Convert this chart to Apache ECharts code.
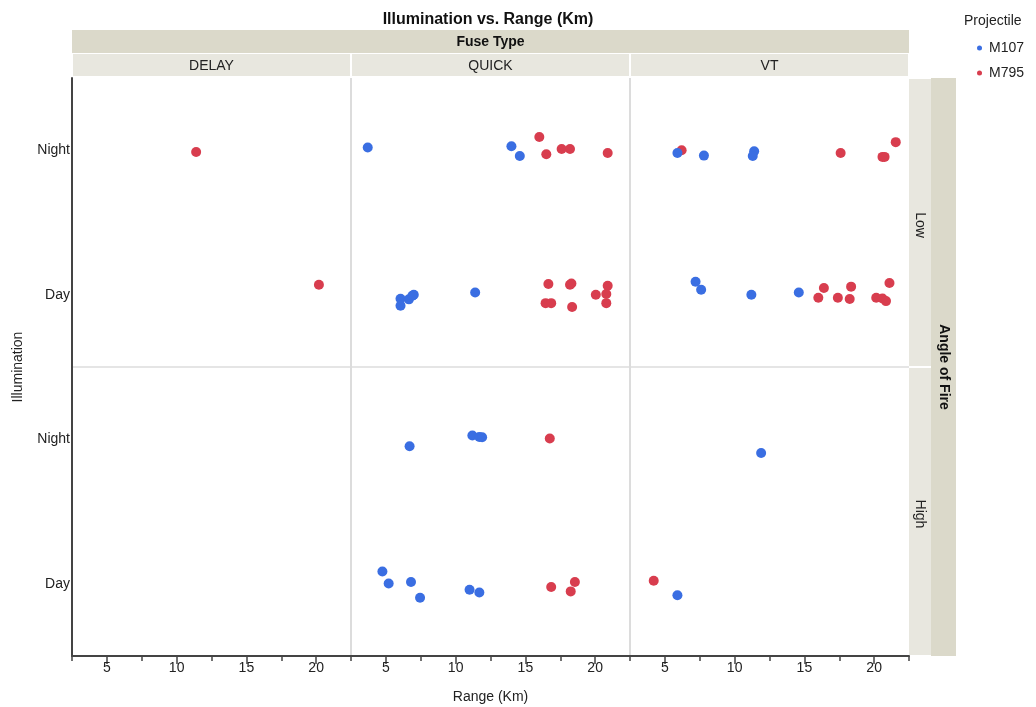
<!DOCTYPE html>
<html>
<head>
<meta charset="utf-8">
<title>Illumination vs. Range (Km)</title>
<script src="https://cdn.jsdelivr.net/npm/echarts@6/dist/echarts.min.js"></script>
<style>
  html, body { margin: 0; padding: 0; background: #fff; }
  #chart { width: 1036px; height: 707px; }
</style>
</head>
<body>
<div id="chart"></div>
<script>
// Facet levels
const fuseTypes = ['DELAY', 'QUICK', 'VT'];
const angles = ['Low', 'High'];
const illumLevels = ['Day', 'Night'];
const projectiles = ['M107', 'M795'];

// Range tick labels
const rangeLabels = [5, 10, 15, 20];
const rangeMinorTicks = [2.5, 7.5, 12.5, 17.5, 22.5];

// Observations: [fuse, angle, illumination, range km, vertical jitter]
const m107Points = [
  ['QUICK', 'Low', 'Night', 3.7, 0.019],
  ['QUICK', 'Low', 'Night', 14.0, 0.028],
  ['QUICK', 'Low', 'Night', 14.6, -0.040],
  ['QUICK', 'Low', 'Day', 6.05, -0.028],
  ['QUICK', 'Low', 'Day', 6.05, -0.076],
  ['QUICK', 'Low', 'Day', 6.65, -0.032],
  ['QUICK', 'Low', 'Day', 6.9, -0.007],
  ['QUICK', 'Low', 'Day', 7.0, 0.0],
  ['QUICK', 'Low', 'Day', 11.4, 0.016],
  ['VT', 'Low', 'Night', 5.9, -0.019],
  ['VT', 'Low', 'Night', 7.8, -0.037],
  ['VT', 'Low', 'Night', 11.4, -0.007],
  ['VT', 'Low', 'Night', 11.3, -0.040],
  ['VT', 'Low', 'Day', 7.2, 0.090],
  ['VT', 'Low', 'Day', 7.6, 0.035],
  ['VT', 'Low', 'Day', 11.2, 0.0],
  ['VT', 'Low', 'Day', 14.6, 0.016],
  ['QUICK', 'High', 'Night', 6.7, -0.049],
  ['QUICK', 'High', 'Night', 11.2, 0.026],
  ['QUICK', 'High', 'Night', 11.7, 0.016],
  ['QUICK', 'High', 'Night', 11.9, 0.014],
  ['QUICK', 'High', 'Day', 4.75, 0.085],
  ['QUICK', 'High', 'Day', 5.2, 0.002],
  ['QUICK', 'High', 'Day', 6.8, 0.012],
  ['QUICK', 'High', 'Day', 7.45, -0.097],
  ['QUICK', 'High', 'Day', 11.0, -0.042],
  ['QUICK', 'High', 'Day', 11.7, -0.060],
  ['VT', 'High', 'Night', 11.9, -0.095],
  ['VT', 'High', 'Day', 5.9, -0.079]
];

const m795Points = [
  ['DELAY', 'Low', 'Night', 11.4, -0.012],
  ['DELAY', 'Low', 'Day', 20.2, 0.069],
  ['QUICK', 'Low', 'Night', 16.0, 0.092],
  ['QUICK', 'Low', 'Night', 16.5, -0.028],
  ['QUICK', 'Low', 'Night', 17.6, 0.009],
  ['QUICK', 'Low', 'Night', 18.2, 0.009],
  ['QUICK', 'Low', 'Night', 20.9, -0.019],
  ['QUICK', 'Low', 'Day', 16.65, 0.074],
  ['QUICK', 'Low', 'Day', 18.2, 0.069],
  ['QUICK', 'Low', 'Day', 18.3, 0.078],
  ['QUICK', 'Low', 'Day', 16.45, -0.058],
  ['QUICK', 'Low', 'Day', 16.85, -0.058],
  ['QUICK', 'Low', 'Day', 18.35, -0.085],
  ['QUICK', 'Low', 'Day', 20.05, 0.0],
  ['QUICK', 'Low', 'Day', 20.9, 0.062],
  ['QUICK', 'Low', 'Day', 20.8, 0.005],
  ['QUICK', 'Low', 'Day', 20.8, -0.058],
  ['VT', 'Low', 'Night', 6.2, 0.0],
  ['VT', 'Low', 'Night', 17.6, -0.019],
  ['VT', 'Low', 'Night', 20.6, -0.046],
  ['VT', 'Low', 'Night', 20.75, -0.046],
  ['VT', 'Low', 'Night', 21.55, 0.056],
  ['VT', 'Low', 'Day', 16.4, 0.047],
  ['VT', 'Low', 'Day', 16.0, -0.021],
  ['VT', 'Low', 'Day', 17.4, -0.021],
  ['VT', 'Low', 'Day', 18.25, -0.030],
  ['VT', 'Low', 'Day', 18.35, 0.056],
  ['VT', 'Low', 'Day', 20.15, -0.021],
  ['VT', 'Low', 'Day', 20.6, -0.026],
  ['VT', 'Low', 'Day', 20.85, -0.044],
  ['VT', 'Low', 'Day', 21.1, 0.081],
  ['QUICK', 'High', 'Night', 16.75, 0.005],
  ['QUICK', 'High', 'Day', 16.85, -0.023],
  ['QUICK', 'High', 'Day', 18.55, 0.012],
  ['QUICK', 'High', 'Day', 18.25, -0.053],
  ['VT', 'High', 'Day', 4.2, 0.021]
];

const colors = { M107: '#3a6ee2', M795: '#d83d4e' };

// Panel geometry
const panelLeft = [72, 351, 630];
const panelWidth = 279;
const panelTop = [78, 367];
const panelHeight = 289;
const plotRight = panelLeft[2] + panelWidth;
const plotBottom = panelTop[1] + panelHeight;

const grids = [], xAxes = [], yAxes = [], series = [];
const textColor = '#222';
const font = 'Liberation Sans, Arial, sans-serif';

angles.forEach((angle, r) => {
  fuseTypes.forEach((fuse, c) => {
    const gi = grids.length;
    grids.push({ left: panelLeft[c], top: panelTop[r], width: panelWidth, height: panelHeight });
    const bottomRow = r === angles.length - 1;
    xAxes.push({
      gridIndex: gi, type: 'value', min: 2.5, max: 22.5, position: 'bottom',
      show: bottomRow,
      axisLine: { show: true, onZero: false, lineStyle: { color: '#444', width: 2 } },
      axisTick: { show: true, length: 8, customValues: rangeLabels, lineStyle: { color: '#444', width: 1.5 } },
      axisLabel: { show: true, customValues: rangeLabels, color: textColor, fontSize: 14, fontFamily: font, margin: 5 },
      splitLine: { show: false },
      name: (bottomRow && c === 1) ? 'Range (Km)' : '',
      nameLocation: 'middle', nameGap: 34,
      nameTextStyle: { color: textColor, fontSize: 14, fontFamily: font }
    });
    // shorter ticks between the labelled ones
    xAxes.push({
      gridIndex: gi, type: 'value', min: 2.5, max: 22.5, position: 'bottom',
      show: bottomRow,
      axisLine: { show: false, onZero: false },
      axisTick: { show: true, length: 5, customValues: rangeMinorTicks, lineStyle: { color: '#444', width: 1.5 } },
      axisLabel: { show: false },
      splitLine: { show: false }
    });
    yAxes.push({
      gridIndex: gi, type: 'value', min: -0.5, max: 1.5,
      show: c === 0,
      axisLine: { show: true, onZero: false, lineStyle: { color: '#444', width: 2 } },
      axisTick: { show: false },
      axisLabel: {
        show: true, customValues: [0, 1], color: textColor, fontSize: 14, fontFamily: font, margin: 2,
        formatter: v => illumLevels[Math.round(v)]
      },
      splitLine: { show: false }
    });
    // M795 first so M107 marks sit on top where they overlap
    [['M795', m795Points], ['M107', m107Points]].forEach(([name, pts]) => {
      series.push({
        type: 'scatter', name,
        xAxisIndex: gi * 2, yAxisIndex: gi,
        symbolSize: 10,
        itemStyle: { color: colors[name], opacity: 1 },
        emphasis: { disabled: true },
        data: pts.filter(p => p[0] === fuse && p[1] === angle)
                 .map(p => [p[3], illumLevels.indexOf(p[2]) + p[4]])
      });
    });
  });
});

// Facet strips, separators and axis title
const stripDark = '#dbd9ca';
const stripLight = '#e8e7df';
const graphics = [];
graphics.push({ type: 'rect', shape: { x: panelLeft[0], y: 30, width: plotRight - panelLeft[0], height: 23 }, style: { fill: stripDark }, z: 1 });
graphics.push({ type: 'text', x: (panelLeft[0] + plotRight) / 2, y: 42, style: { text: 'Fuse Type', fill: '#111', font: 'bold 14px ' + font, align: 'center', verticalAlign: 'middle' }, z: 2 });
fuseTypes.forEach((f, c) => {
  graphics.push({ type: 'rect', shape: { x: panelLeft[c] + 1, y: 54, width: panelWidth - 2, height: 22 }, style: { fill: stripLight }, z: 1 });
  graphics.push({ type: 'text', x: panelLeft[c] + panelWidth / 2, y: 66, style: { text: f, fill: textColor, font: '14px ' + font, align: 'center', verticalAlign: 'middle' }, z: 2 });
});
angles.forEach((a, r) => {
  graphics.push({ type: 'rect', shape: { x: plotRight, y: panelTop[r] + 1, width: 22, height: panelHeight - 2 }, style: { fill: stripLight }, z: 1 });
  graphics.push({ type: 'text', x: plotRight + 11, y: panelTop[r] + 147, rotation: -Math.PI / 2, style: { text: a, fill: textColor, font: '14px ' + font, align: 'center', verticalAlign: 'middle' }, z: 2 });
});
graphics.push({ type: 'rect', shape: { x: plotRight + 22, y: panelTop[0], width: 25, height: plotBottom - panelTop[0] }, style: { fill: stripDark }, z: 1 });
graphics.push({ type: 'text', x: plotRight + 35, y: (panelTop[0] + plotBottom) / 2, rotation: -Math.PI / 2, style: { text: 'Angle of Fire', fill: '#111', font: 'bold 14px ' + font, align: 'center', verticalAlign: 'middle' }, z: 2 });
[panelLeft[1], panelLeft[2]].forEach(x => {
  graphics.push({ type: 'line', shape: { x1: x, y1: panelTop[0], x2: x, y2: plotBottom }, style: { stroke: '#dcdcdc', lineWidth: 2 }, z: 0 });
});
graphics.push({ type: 'line', shape: { x1: panelLeft[0], y1: panelTop[1], x2: plotRight, y2: panelTop[1] }, style: { stroke: '#dcdcdc', lineWidth: 1.5 }, z: 0 });
graphics.push({ type: 'text', x: 18, y: (panelTop[0] + plotBottom) / 2, rotation: Math.PI / 2, style: { text: 'Illumination', fill: textColor, font: '14px ' + font, align: 'center', verticalAlign: 'middle' }, z: 2 });
graphics.push({ type: 'text', x: 964, y: 21, style: { text: 'Projectile', fill: textColor, font: '14px ' + font, align: 'left', verticalAlign: 'middle' }, z: 2 });

const chart = echarts.init(document.getElementById('chart'), null, { renderer: 'canvas' });
chart.setOption({
  animation: false,
  backgroundColor: '#fff',
  title: {
    text: 'Illumination vs. Range (Km)', left: 483, top: 7, textAlign: 'center',
    textStyle: { color: '#111', fontSize: 16, fontWeight: 'bold', fontFamily: font }
  },
  legend: {
    data: projectiles, orient: 'vertical', left: 972, top: 36,
    icon: 'circle', itemWidth: 5, itemHeight: 5, itemGap: 11,
    textStyle: { color: textColor, fontSize: 14, fontFamily: font, padding: [0, 0, 0, 2] },
    selectedMode: false
  },
  grid: grids,
  xAxis: xAxes,
  yAxis: yAxes,
  series,
  graphic: { elements: graphics }
});
</script>
</body>
</html>
